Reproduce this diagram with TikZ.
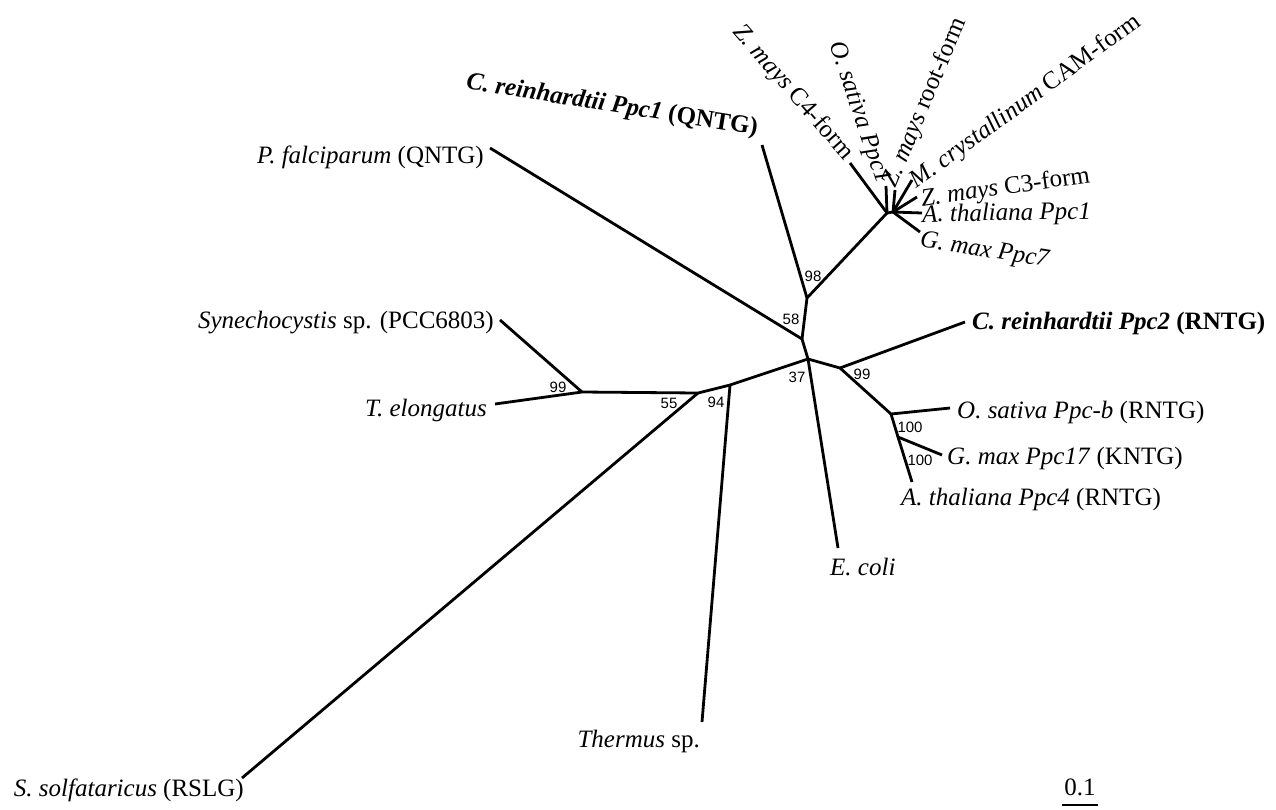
\documentclass[tikz,border=0pt]{standalone}
\usepackage{fontspec}
\setmainfont{Liberation Serif}
\newfontfamily\bsfont{Liberation Sans}
\begin{document}
\begin{tikzpicture}[x=1pt,y=-1pt,
  br/.style={line width=2.8pt},
  lab/.style={font=\fontsize{25}{30}\selectfont, inner sep=0pt},
  blab/.style={font=\fontsize{25}{30}\selectfont\bfseries, inner sep=0pt},
  bs/.style={font=\bsfont\fontsize{15}{18}\selectfont, inner sep=0pt}]
\useasboundingbox (0,0) rectangle (1276,809);
% internal nodes
\coordinate (c) at (808,359);
\coordinate (n58) at (802,339);
\coordinate (n98) at (807,298);
\coordinate (nz) at (887,213);
\coordinate (nz2) at (893,212);
\coordinate (n99r) at (840,368);
\coordinate (n100a) at (891,414);
\coordinate (n100b) at (898,437);
\coordinate (n94) at (730,385);
\coordinate (n55) at (698,393);
\coordinate (n99l) at (582,392);
% tips
\coordinate (tPf) at (490,148);
\coordinate (tCr1) at (762,145);
\coordinate (tZc4) at (850,163);
\coordinate (tOs1) at (886,186);
\coordinate (tZr) at (895,190);
\coordinate (tMc) at (912,180);
\coordinate (tZc3) at (917,197);
\coordinate (tAt1) at (922,213);
\coordinate (tGm7) at (920,232);
\coordinate (tCr2) at (965,322);
\coordinate (tOsb) at (950,408);
\coordinate (tGm17) at (942,455);
\coordinate (tAt4) at (912,482);
\coordinate (tEc) at (838,548);
\coordinate (tTh) at (702,722);
\coordinate (tSs) at (242,778);
\coordinate (tTe) at (495,404);
\coordinate (tSy) at (500,320);
% branches
\draw[br] (tPf) -- (n58) -- (c);
\draw[br] (n58) -- (n98) -- (nz);
\draw[br] (n98) -- (tCr1);
\draw[br] (nz) -- (tZc4);
\draw[br] (nz) -- (tOs1);
\draw[br] (nz) -- (nz2);
\draw[br] (nz2) -- (tZr);
\draw[br] (nz2) -- (tMc);
\draw[br] (nz2) -- (tZc3);
\draw[br] (nz2) -- (tAt1);
\draw[br] (nz2) -- (tGm7);
\draw[br] (c) -- (n99r) -- (tCr2);
\draw[br] (n99r) -- (n100a) -- (tOsb);
\draw[br] (n100a) -- (n100b) -- (tGm17);
\draw[br] (n100b) -- (tAt4);
\draw[br] (c) -- (tEc);
\draw[br] (c) -- (n94) -- (n55) -- (n99l);
\draw[br] (n94) -- (tTh);
\draw[br] (n55) -- (tSs);
\draw[br] (n99l) -- (tTe);
\draw[br] (n99l) -- (tSy);
% labels
\node[lab, anchor=east] (lPf) at (484,157) {\textit{P. falciparum} (QNTG)};
\node[blab, rotate=-9] (lCr1) at (612,106) {\textit{C. reinhardtii Ppc1} (QNTG)};
\node[lab, anchor=east, rotate=-49] (lZc4) at (849,157) {\textit{Z. mays} C4-form};
\node[lab, anchor=east, rotate=-71] (lOs1) at (883,183) {\textit{O. sativa Ppc1}};
\node[lab, anchor=west, rotate=67] (lZr) at (890,186) {\textit{Z. mays} root-form};
\node[lab, anchor=west, rotate=36] (lMc) at (913,184) {\textit{M. crystallinum} CAM-form};
\node[lab, anchor=west, rotate=8] (lZc3) at (921,200) {\textit{Z. mays} C3-form};
\node[lab, anchor=west, rotate=1] (lAt1) at (922,216) {\textit{A. thaliana Ppc1}};
\node[lab, anchor=west, rotate=-9] (lGm7) at (920,241) {\textit{G. max Ppc7}};
\node[blab, anchor=west] (lCr2) at (972,323) {\textit{C. reinhardtii Ppc2} (RNTG)};
\node[lab, anchor=west] (lOsb) at (957,412) {\textit{O. sativa Ppc-b} (RNTG)};
\node[lab, anchor=west] (lGm17) at (947,458) {\textit{G. max Ppc17} (KNTG)};
\node[lab, anchor=north west] (lAt4) at (901,488) {\textit{A. thaliana Ppc4} (RNTG)};
\node[lab, anchor=north west] (lEc) at (830,558) {\textit{E. coli}};
\node[lab, anchor=north east] (lTh) at (700,730) {\textit{Thermus} sp.};
\node[lab, anchor=east] (lSs) at (244,790) {\textit{S. solfataricus} (RSLG)};
\node[lab, anchor=east] (lTe) at (487,410) {\textit{T. elongatus}};
\node[lab, anchor=east] (lSy) at (494,323) {\textit{Synechocystis} sp. (PCC6803)};
% bootstrap values
\node[bs] (b98) at (813,276) {98};
\node[bs] (b58) at (791,319) {58};
\node[bs] (b99r) at (862,374) {99};
\node[bs] (b37) at (797,377) {37};
\node[bs] (b94) at (716,402) {94};
\node[bs] (b55) at (669,403) {55};
\node[bs] (b99l) at (558,387) {99};
\node[bs] (b100a) at (910,427) {100};
\node[bs] (b100b) at (920,460) {100};
% scale bar
\coordinate (sb1) at (1062,805);
\coordinate (sb2) at (1098,805);
\draw[line width=2.6pt] (sb1) -- (sb2);
\node[lab] (lsb) at (1080,787) {0.1};
\end{tikzpicture}
\end{document}
